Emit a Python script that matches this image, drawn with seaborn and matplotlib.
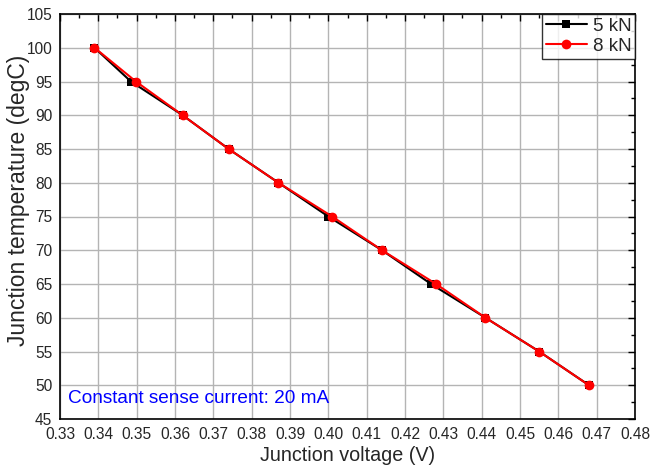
import matplotlib

matplotlib.use("Agg")
import matplotlib.pyplot as plt
import numpy as np
import pandas as pd
import seaborn as sns
from matplotlib.ticker import MultipleLocator, FormatStrFormatter

sns.set_style("white")
plt.rcParams["font.family"] = ["Liberation Sans", "DejaVu Sans"]

# junction temperature (degC) vs junction voltage (V)
temp = [100, 95, 90, 85, 80, 75, 70, 65, 60, 55, 50]
volt_5kn = [0.339, 0.3485, 0.362, 0.374, 0.387, 0.400, 0.414, 0.4268, 0.441, 0.455, 0.468]
volt_8kn = [0.339, 0.3498, 0.362, 0.374, 0.387, 0.401, 0.414, 0.4281, 0.441, 0.455, 0.468]

df = pd.DataFrame({"temp": temp, "v5": volt_5kn, "v8": volt_8kn})

fig = plt.figure(figsize=(6.5, 4.7), dpi=100)
ax = fig.add_axes([60 / 650, 1 - 419 / 470, 575 / 650, 405 / 470])

sns.lineplot(data=df, x="v5", y="temp", sort=False, ax=ax, color="black",
             marker="s", markersize=6, markeredgewidth=0, linewidth=1.5, label="5 kN")
sns.lineplot(data=df, x="v8", y="temp", sort=False, ax=ax, color="red",
             marker="o", markersize=7, markeredgewidth=0, linewidth=1.5, label="8 kN")

ax.set_xlim(0.33, 0.48)
ax.set_ylim(45, 105)
ax.xaxis.set_major_locator(MultipleLocator(0.01))
ax.xaxis.set_minor_locator(MultipleLocator(0.005))
ax.yaxis.set_major_locator(MultipleLocator(5))
ax.yaxis.set_minor_locator(MultipleLocator(2.5))
ax.xaxis.set_major_formatter(FormatStrFormatter("%.2f"))

ax.grid(True, which="major", color="#b4b4b4", linewidth=1)
ax.tick_params(which="both", direction="in", top=True, right=True, labelsize=11.2,
               color="black", pad=5.5)
ax.tick_params(which="major", length=5, width=1)
ax.tick_params(which="minor", length=3, width=1)
for s in ax.spines.values():
    s.set_color("black")
    s.set_linewidth(1.2)

ax.set_xlabel("Junction voltage (V)", fontsize=14.2, labelpad=3)
ax.set_ylabel("Junction temperature (degC)", fontsize=16.5)
ax.yaxis.set_label_coords(-0.053, 0.54)

ax.text(0.332, 47.4, "Constant sense current: 20 mA", color="blue", fontsize=13.7)

leg = ax.legend(loc="upper right", fontsize=13.5, frameon=True, fancybox=False,
                borderaxespad=0, handlelength=2.2, handletextpad=0.3,
                borderpad=0.2, labelspacing=0.15)
leg.get_frame().set_edgecolor("black")
leg.get_frame().set_linewidth(1)

fig.savefig("out.png", dpi=100)
